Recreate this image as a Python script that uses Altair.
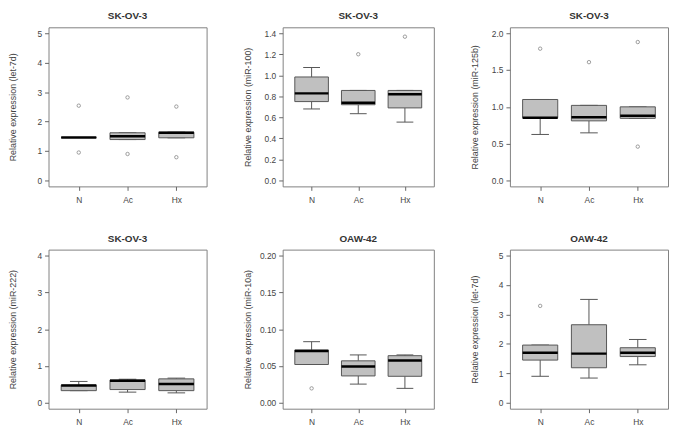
import altair as alt
import pandas as pd

categories = ["N", "Ac", "Hx"]
positions = [1, 2, 3]

# Panel 1: SK-OV-3, let-7d
p1_title = "SK-OV-3"
p1_ylabel = "Relative expression (let-7d)"
p1_low = [1.46, 1.39, 1.45]
p1_q1 = [1.46, 1.39, 1.45]
p1_med = [1.46, 1.50, 1.62]
p1_q3 = [1.46, 1.62, 1.64]
p1_high = [1.46, 1.62, 1.64]
p1_out_cat = ["N", "N", "Ac", "Ac", "Hx", "Hx"]
p1_out_val = [2.54, 0.95, 2.82, 0.90, 2.51, 0.79]
p1_ticks = [0, 1, 2, 3, 4, 5]

# Panel 2: SK-OV-3, miR-100
p2_title = "SK-OV-3"
p2_ylabel = "Relative expression (miR-100)"
p2_low = [0.68, 0.635, 0.555]
p2_q1 = [0.75, 0.72, 0.69]
p2_med = [0.828, 0.738, 0.82]
p2_q3 = [0.984, 0.856, 0.856]
p2_high = [1.074, 0.856, 0.856]
p2_out_cat = ["Ac", "Hx"]
p2_out_val = [1.20, 1.367]
p2_ticks = [0.0, 0.2, 0.4, 0.6, 0.8, 1.0, 1.2, 1.4]

# Panel 3: SK-OV-3, miR-125b
p3_title = "SK-OV-3"
p3_ylabel = "Relative expression (miR-125b)"
p3_low = [0.625, 0.647, 0.844]
p3_q1 = [0.853, 0.81, 0.844]
p3_med = [0.853, 0.86, 0.88]
p3_q3 = [1.10, 1.02, 1.0]
p3_high = [1.10, 1.02, 1.0]
p3_out_cat = ["N", "Ac", "Hx", "Hx"]
p3_out_val = [1.79, 1.607, 1.88, 0.46]
p3_ticks = [0.0, 0.5, 1.0, 1.5, 2.0]

# Panel 4: SK-OV-3, miR-222
p4_title = "SK-OV-3"
p4_ylabel = "Relative expression (miR-222)"
p4_low = [0.33, 0.29, 0.27]
p4_q1 = [0.33, 0.36, 0.33]
p4_med = [0.47, 0.60, 0.51]
p4_q3 = [0.48, 0.62, 0.65]
p4_high = [0.58, 0.64, 0.67]
p4_out_cat = []
p4_out_val = []
p4_ticks = [0, 1, 2, 3, 4]

# Panel 5: OAW-42, miR-10a
p5_title = "OAW-42"
p5_ylabel = "Relative expression (miR-10a)"
p5_low = [0.052, 0.0254, 0.0196]
p5_q1 = [0.052, 0.0365, 0.036]
p5_med = [0.0704, 0.0494, 0.0575]
p5_q3 = [0.0717, 0.057, 0.064]
p5_high = [0.083, 0.065, 0.065]
p5_out_cat = ["N"]
p5_out_val = [0.0196]
p5_ticks = [0.00, 0.05, 0.10, 0.15, 0.20]

# Panel 6: OAW-42, let-7d
p6_title = "OAW-42"
p6_ylabel = "Relative expression (let-7d)"
p6_low = [0.90, 0.84, 1.29]
p6_q1 = [1.45, 1.19, 1.57]
p6_med = [1.70, 1.67, 1.70]
p6_q3 = [1.96, 2.65, 1.87]
p6_high = [1.96, 3.51, 2.15]
p6_out_cat = ["N"]
p6_out_val = [3.29]
p6_ticks = [0, 1, 2, 3, 4, 5]

FONT = "Liberation Sans"
BOX_FILL = "#c0c0c0"
LINE = "#555555"

label_expr = " : ".join(
    f"datum.value == {p} ? '{c}'" for p, c in zip(positions, categories)
) + " : ''"


def panel(title, ylabel, low, q1, med, q3, high, out_cat, out_val, ticks, fmt, width, height):
    stats = pd.DataFrame({"cat": categories, "pos": positions, "low": low,
                          "q1": q1, "med": med, "q3": q3, "high": high})
    out = pd.DataFrame({"pos": [positions[categories.index(c)] for c in out_cat],
                        "val": out_val})
    ymax = ticks[-1]
    xscale = alt.Scale(domain=[0.38, 3.62], nice=False, zero=False)
    yscale = alt.Scale(domain=[-0.04 * ymax, 1.04 * ymax], nice=False, zero=False)
    xaxis = alt.Axis(values=positions, labelExpr=label_expr, grid=False, domain=False,
                     tickSize=4, labelPadding=5, labelAngle=0)
    yaxis = alt.Axis(values=ticks, format=fmt, grid=False, domain=False, tickSize=4,
                     labelPadding=3, minExtent=24, maxExtent=24, titlePadding=7)

    def X(f):
        return alt.X(f, type="quantitative", scale=xscale, axis=xaxis, title=None)

    def Y(f):
        return alt.Y(f, type="quantitative", scale=yscale, axis=yaxis, title=ylabel)

    base = alt.Chart(stats).transform_calculate(
        xl="datum.pos - 0.36", xr="datum.pos + 0.36",
        cl="datum.pos - 0.18", cr="datum.pos + 0.18")

    w_lo = base.mark_rule(color=LINE, strokeWidth=1).encode(x=X("pos"), y=Y("low"), y2="q1")
    w_hi = base.mark_rule(color=LINE, strokeWidth=1).encode(x=X("pos"), y=Y("q3"), y2="high")
    c_lo = base.mark_rule(color=LINE, strokeWidth=1).encode(x=X("cl"), x2="cr", y=Y("low"))
    c_hi = base.mark_rule(color=LINE, strokeWidth=1).encode(x=X("cl"), x2="cr", y=Y("high"))
    box = base.mark_rect(fill=BOX_FILL, stroke=LINE, strokeWidth=1).encode(
        x=X("xl"), x2="xr", y=Y("q1"), y2="q3")
    median = base.mark_rule(color="black", strokeWidth=2.5).encode(
        x=X("xl"), x2="xr", y=Y("med"))
    layers = [w_lo, w_hi, c_lo, c_hi, box, median]
    if len(out):
        pts = alt.Chart(out).mark_point(shape="circle", size=12, filled=False,
                                        color="#666666", strokeWidth=0.9).encode(
            x=X("pos"), y=Y("val"))
        layers.append(pts)
    return alt.layer(*layers).properties(
        width=width, height=height,
        title=alt.TitleParams(title, font=FONT, fontSize=10, fontWeight="bold",
                              color="#333333", offset=6))


p1 = panel(p1_title, p1_ylabel, p1_low, p1_q1, p1_med, p1_q3, p1_high, p1_out_cat, p1_out_val, p1_ticks, "d", 160, 161)
p2 = panel(p2_title, p2_ylabel, p2_low, p2_q1, p2_med, p2_q3, p2_high, p2_out_cat, p2_out_val, p2_ticks, ".1f", 153, 161)
p3 = panel(p3_title, p3_ylabel, p3_low, p3_q1, p3_med, p3_q3, p3_high, p3_out_cat, p3_out_val, p3_ticks, ".1f", 160, 161)
p4 = panel(p4_title, p4_ylabel, p4_low, p4_q1, p4_med, p4_q3, p4_high, p4_out_cat, p4_out_val, p4_ticks, "d", 160, 161)
p5 = panel(p5_title, p5_ylabel, p5_low, p5_q1, p5_med, p5_q3, p5_high, p5_out_cat, p5_out_val, p5_ticks, ".2f", 153, 161)
p6 = panel(p6_title, p6_ylabel, p6_low, p6_q1, p6_med, p6_q3, p6_high, p6_out_cat, p6_out_val, p6_ticks, "d", 160, 161)

row1 = alt.hconcat(p1, p2, p3, spacing=35)
row2 = alt.hconcat(p4, p5, p6, spacing=35)

chart = alt.vconcat(row1, row2, spacing=29).properties(
    padding=0, background="white"
).configure_view(
    stroke="#808080", strokeWidth=1
).configure_axis(
    labelFont=FONT, labelFontSize=8.5, labelColor="#444444",
    titleFont=FONT, titleFontSize=9, titleFontWeight="normal", titleColor="#444444",
    tickColor="#666666", tickWidth=1
)

chart.save("out.html", embed_options={"renderer": "svg", "actions": False})
